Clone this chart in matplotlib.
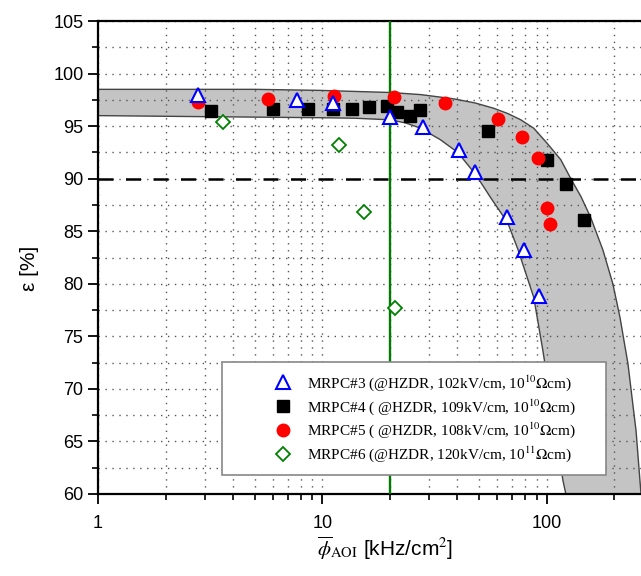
import numpy as np
import matplotlib
matplotlib.use("Agg")
import matplotlib.pyplot as plt
from matplotlib.ticker import LogLocator, MultipleLocator, NullFormatter
from matplotlib.legend_handler import HandlerLine2D

plt.rcParams["font.family"] = "Liberation Sans"
plt.rcParams["mathtext.fontset"] = "stix"

# ---------------------------------------------------------
# DATA
# ---------------------------------------------------------
mrpc3_x = [2.8, 7.7, 11.2, 20.1, 28.2, 40.5, 47.7, 66.3, 78.9, 92.1]
mrpc3_y = [98.0, 97.5, 97.2, 95.9, 94.9, 92.7, 90.6, 86.4, 83.2, 78.8]

mrpc4_x = [3.2, 6.0, 8.6, 11.2, 13.6, 16.2, 19.5, 21.6, 24.5, 27.1, 54.5, 100, 121.7, 146]
mrpc4_y = [96.4, 96.6, 96.6, 96.6, 96.6, 96.8, 96.9, 96.3, 96.0, 96.5, 94.5, 91.8, 89.5, 86.1]

mrpc5_x = [2.8, 5.7, 11.3, 20.8, 35.1, 60.4, 77.3, 91.2, 100, 103]
mrpc5_y = [97.3, 97.6, 97.9, 97.8, 97.2, 95.7, 94.0, 92.0, 87.2, 85.7]

mrpc6_x = [3.6, 11.8, 15.4, 21.0]
mrpc6_y = [95.4, 93.2, 86.8, 77.7]

# band edges
upper_x = [1, 5, 9.8, 14, 20.1, 27.4, 38.4, 48, 58, 67, 76.6, 87.5, 101, 115.5, 128, 142,
           157, 178, 197, 212, 230, 250, 263]
upper_y = [98.5, 98.5, 98.4, 98.3, 98.2, 98.0, 97.6, 97.2, 96.7, 96.2, 95.6, 94.8, 93.3, 91.8, 90.0, 88.3,
           86.3, 83.2, 80.0, 76.8, 72.4, 66.0, 60.0]
lower_x = [1, 3, 9.8, 14, 20.1, 23.5, 27.4, 33.6, 40.1, 48.2, 56.2, 67, 74.3, 87.5, 96, 107.5, 118, 121.6]
lower_y = [96.0, 95.9, 95.8, 95.75, 95.6, 95.3, 94.8, 93.7, 92.5, 90.4, 88.2, 85.8, 83.3, 78.7, 73.7, 67.0, 61.3, 60.0]

labels = [
    r"MRPC#3 (@HZDR, 102kV/cm, 10$^{10}$$\Omega$cm)",
    r"MRPC#4 ( @HZDR, 109kV/cm, 10$^{10}$$\Omega$cm)",
    r"MRPC#5 ( @HZDR, 108kV/cm, 10$^{10}$$\Omega$cm)",
    r"MRPC#6 (@HZDR, 120kV/cm, 10$^{11}$$\Omega$cm)",
]

# ---------------------------------------------------------
# PLOT
# ---------------------------------------------------------
fig = plt.figure(figsize=(6.41, 5.76), dpi=100)
ax = fig.add_axes([0.1529, 0.1424, 0.8471, 0.8211])

ax.set_xscale("log")
ax.set_xlim(1, 263)
ax.set_ylim(60, 105)

# gray band
band_x = upper_x + lower_x[::-1]
band_y = upper_y + lower_y[::-1]
ax.fill(band_x, band_y, color="#c4c4c4", zorder=1, lw=0)
ax.plot(upper_x, upper_y, color="#444444", lw=1.0, zorder=2)
ax.plot(lower_x, lower_y, color="#444444", lw=1.0, zorder=2)

# grid
ax.xaxis.set_major_locator(LogLocator(base=10))
ax.xaxis.set_minor_locator(LogLocator(base=10, subs=np.arange(2, 10)))
ax.xaxis.set_minor_formatter(NullFormatter())
ax.yaxis.set_major_locator(MultipleLocator(5))
ax.yaxis.set_minor_locator(MultipleLocator(2.5))
ax.grid(True, which="both", linestyle=(0, (1, 4)), color="#555555", lw=1.0, zorder=0)

# reference lines
ax.axvline(20, color="#007a00", lw=1.7, zorder=3)
ax.axhline(90, color="black", lw=1.8, ls=(0, (6, 5)), zorder=3)

ax.plot(mrpc3_x, mrpc3_y, ls="none", marker="^", ms=9.5, mfc="white", mec="blue", mew=1.5, label=labels[0], zorder=5)
ax.plot(mrpc4_x, mrpc4_y, ls="none", marker="s", ms=8, mfc="black", mec="black", label=labels[1], zorder=4)
ax.plot(mrpc5_x, mrpc5_y, ls="none", marker="o", ms=9, mfc="red", mec="red", label=labels[2], zorder=4)
ax.plot(mrpc6_x, mrpc6_y, ls="none", marker="D", ms=7.5, mfc="white", mec="green", mew=1.3, label=labels[3], zorder=5)

ax.set_xticks([1, 10, 100])
ax.set_xticklabels(["1", "10", "100"])
ax.tick_params(axis="both", which="major", direction="out", length=7, width=1.3, labelsize=13)
ax.tick_params(axis="both", which="minor", direction="out", length=4, width=1.2)
ax.tick_params(axis="x", pad=8)

for s in ["left", "bottom", "top"]:
    ax.spines[s].set_linewidth(1.6)
ax.spines["right"].set_visible(False)

ax.set_ylabel("ε [%]", fontsize=15)
ax.yaxis.set_label_coords(-0.108, 0.476)
ax.set_xlabel(r"$\overline{\phi}_{\rm AOI}$ [kHz/cm$^2$]", fontsize=15, labelpad=6)
ax.xaxis.set_label_coords(0.528, -0.085)

leg = ax.legend(loc="lower left", bbox_to_anchor=(0.228, 0.04, 0.707, 0.243), mode="expand",
                borderaxespad=0, frameon=True, fancybox=False, framealpha=1, edgecolor="#888888",
                prop={"family": "Liberation Serif", "size": 11},
                borderpad=0.7, handletextpad=0.4, labelspacing=0.28, handlelength=4.5,
                handler_map={plt.Line2D: HandlerLine2D(xpad=2.06)})
leg.get_frame().set_linewidth(1.2)

fig.savefig("out.png", dpi=100)
